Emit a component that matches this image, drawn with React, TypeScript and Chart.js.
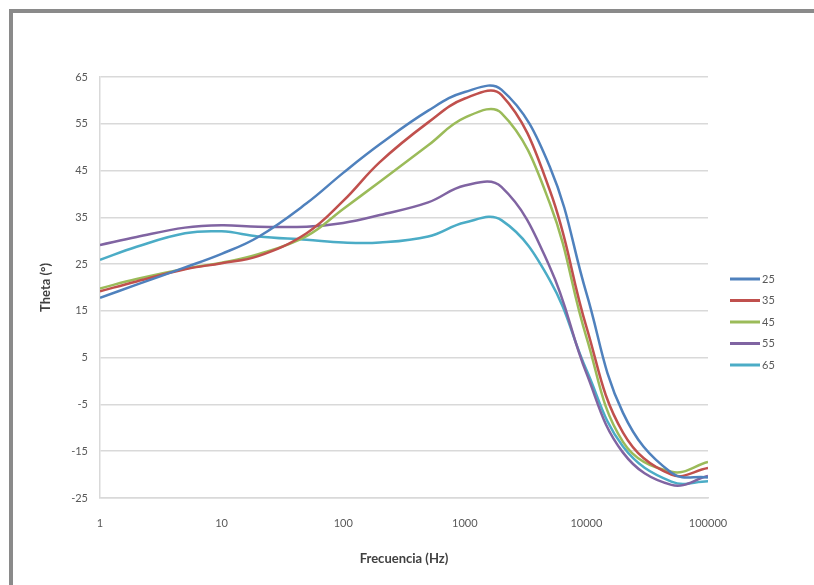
import React, { useEffect, useRef } from "react";
import { Chart, registerables } from "chart.js";

Chart.register(...registerables);

const FREQS = [1, 2, 5, 10, 20, 50, 100, 200, 500, 1000, 2000, 5000, 10000, 20000, 50000, 100000];
const X_TICKS = [1, 10, 100, 1000, 10000, 100000];
const SERIES_NAMES = ["25", "35", "45", "55", "65"];
const SERIES_COLORS = ["#4F81BD", "#C0504D", "#9BBB59", "#8064A2", "#4BACC6"];

const S25 = [17.8, 20.6, 24.3, 27.2, 30.8, 38.0, 44.5, 50.6, 57.8, 61.8, 62.3, 45.8, 18.8, -6.8, -19.6, -20.6];
const S35 = [19.2, 21.3, 23.9, 25.2, 26.7, 31.6, 38.5, 46.8, 55.3, 60.4, 61.2, 40.8, 11.6, -11.0, -20.0, -18.6];
const S45 = [19.8, 21.8, 24.0, 25.3, 27.1, 31.0, 36.8, 42.6, 50.4, 56.3, 57.3, 38.0, 9.4, -13.0, -19.4, -17.3];
const S55 = [29.1, 30.8, 32.8, 33.3, 33.0, 33.0, 33.8, 35.5, 38.2, 41.8, 41.5, 24.4, 1.7, -15.3, -22.2, -20.3];
const S65 = [25.9, 28.7, 31.6, 32.0, 30.9, 30.2, 29.6, 29.6, 30.9, 33.9, 34.4, 21.6, 2.4, -14.0, -21.5, -21.4];
const SERIES_VALUES = [S25, S35, S45, S55, S65];

const Y_MIN = -25;
const Y_MAX = 65;
const Y_STEP = 10;

const X_TITLE = "Frecuencia (Hz)";
const Y_TITLE = "Theta (°)";

const FONT = "Lato, 'Open Sans', sans-serif";

const legendPlugin = {
  id: "customLegend",
  afterDraw(chart: any) {
    const ctx = chart.ctx;
    const area = chart.chartArea;
    const x0 = area.right + 22;
    const yStart = 266;
    const step = 21.5;
    ctx.save();
    ctx.font = `11px ${FONT}`;
    ctx.textBaseline = "middle";
    ctx.textAlign = "left";
    chart.data.datasets.forEach((ds: any, i: number) => {
      const y = yStart + i * step;
      ctx.strokeStyle = ds.borderColor;
      ctx.lineWidth = 3;
      ctx.beginPath();
      ctx.moveTo(x0, y);
      ctx.lineTo(x0 + 30, y);
      ctx.stroke();
      ctx.fillStyle = "#595959";
      ctx.fillText(ds.label, x0 + 32, y);
    });
    ctx.restore();
  },
};

export default function App() {
  const ref = useRef<HTMLCanvasElement | null>(null);

  useEffect(() => {
    if (!ref.current) return;
    const datasets = SERIES_VALUES.map((vals, i) => ({
      label: SERIES_NAMES[i],
      data: vals.map((v, j) => ({ x: FREQS[j], y: v })),
      borderColor: SERIES_COLORS[i],
      backgroundColor: SERIES_COLORS[i],
      borderWidth: 2.5,
      pointRadius: 0,
      tension: 0.4,
      fill: false,
    }));
    const chart = new Chart(ref.current, {
      type: "line",
      data: { datasets },
      plugins: [legendPlugin],
      options: {
        animation: false,
        responsive: false,
        maintainAspectRatio: false,
        layout: { padding: { left: 0, top: 64, right: 106, bottom: 0 } },
        plugins: {
          legend: { display: false },
          tooltip: { enabled: false },
        },
        scales: {
          x: {
            type: "logarithmic",
            min: 1,
            max: 100000,
            afterBuildTicks: (axis: any) => {
              axis.ticks = X_TICKS.map((v) => ({ value: v }));
            },
            afterFit: (axis: any) => {
              axis.height = 87;
            },
            ticks: {
              autoSkip: false,
              maxRotation: 0,
              padding: 19,
              color: "#595959",
              font: { family: FONT, size: 11 },
              callback: (v: any) => String(v),
            },
            grid: { display: false, drawTicks: false },
            border: { display: true, color: "#d9d9d9", width: 1.5 },
            title: {
              display: true,
              text: X_TITLE,
              color: "#404040",
              font: { family: FONT, size: 13, weight: "bold" },
              padding: { top: 0, bottom: 18 },
            },
          },
          y: {
            type: "linear",
            min: Y_MIN,
            max: Y_MAX,
            afterFit: (axis: any) => {
              axis.width = 87;
            },
            ticks: {
              stepSize: Y_STEP,
              padding: 12,
              color: "#595959",
              font: { family: FONT, size: 11 },
            },
            grid: { color: "#d9d9d9", lineWidth: 1.5, drawTicks: false },
            border: { display: true, color: "#d9d9d9", width: 1.5 },
            title: {
              display: true,
              text: Y_TITLE,
              color: "#404040",
              font: { family: FONT, size: 13, weight: "bold" },
              padding: { top: 25, bottom: 0 },
            },
          },
        },
      },
    });
    return () => chart.destroy();
  }, []);

  return (
    <div
      style={{
        position: "absolute",
        left: 9,
        top: 9,
        width: 805,
        height: 576,
        borderLeft: "4px solid #8a8a8a",
        borderTop: "4px solid #8a8a8a",
        background: "#fff",
      }}
    >
      <canvas ref={ref} width={801} height={572} style={{ display: "block" }} />
    </div>
  );
}
